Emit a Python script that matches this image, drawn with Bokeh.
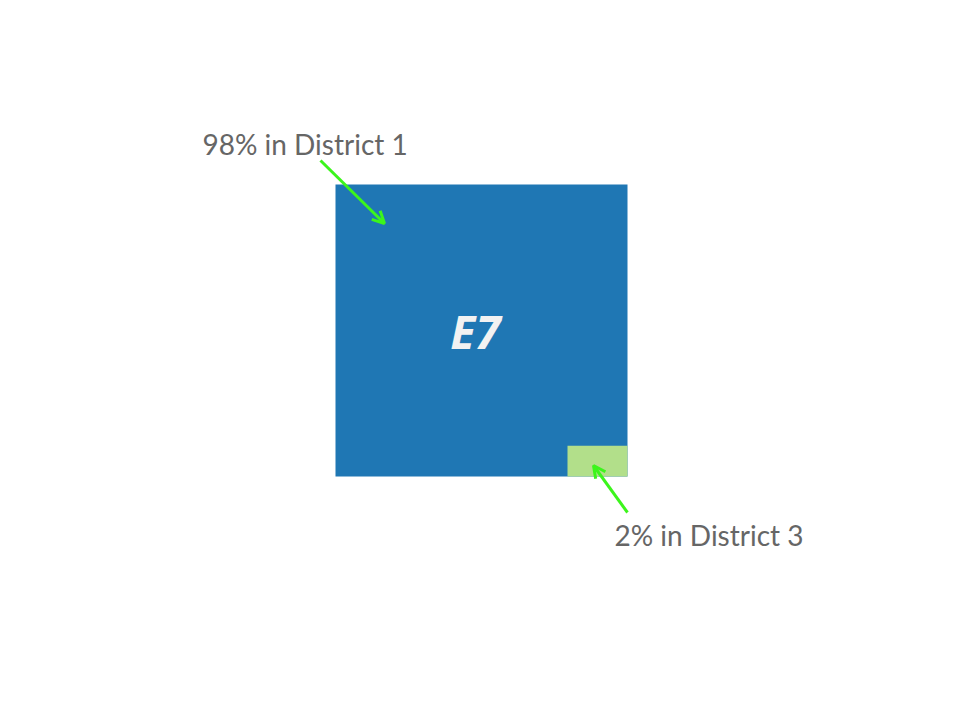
from bokeh.plotting import figure
from bokeh.models import Range1d, Arrow, OpenHead
from bokeh.core.properties import value
from bokeh.embed import file_html
from bokeh.resources import INLINE

# data
districts = ["District 1", "District 3"]
shares = [98, 2]
colors = ["#1f77b4", "#b2df8a"]
label = "E7"
annotations = [f"{s}% in {d}" for s, d in zip(shares, districts)]

W, H = 960, 720
p = figure(width=W, height=H, output_backend="svg", toolbar_location=None,
           x_range=Range1d(0, W), y_range=Range1d(H, 0), min_border=0)
p.axis.visible = False
p.grid.visible = False
p.outline_line_color = None
p.background_fill_color = "white"
p.border_fill_color = "white"

# square layout
x0, y0, side = 335, 184, 292
small_w = 60
small_h = side * side * shares[1] / 100 / small_w * 1.08

p.quad(left=[x0], right=[x0 + side], top=[y0], bottom=[y0 + side], color=colors[0], line_color=None)
p.quad(left=[x0 + side - small_w], right=[x0 + side], top=[y0 + side - small_h], bottom=[y0 + side],
       color=colors[1], line_color=None)

p.text(x=[x0 + side / 2 - 6], y=[y0 + side / 2], text=[label], text_align="center",
       text_baseline="middle", text_font=value("Open Sans"), text_font_style="bold italic",
       text_font_size="46px", text_color="#f2f2f2")

p.text(x=[202], y=[143], text=[annotations[0]], text_align="left", text_baseline="middle",
       text_font=value("Lato"), text_font_size="28px", text_color="#666666")
p.text(x=[614], y=[534], text=[annotations[1]], text_align="left", text_baseline="middle",
       text_font=value("Lato"), text_font_size="28px", text_color="#666666")

ac = "#3cf51c"
p.add_layout(Arrow(x_start=320, y_start=160, x_end=384, y_end=223, line_color=ac, line_width=3,
                   end=OpenHead(size=12, line_color=ac, line_width=3)))
p.add_layout(Arrow(x_start=627, y_start=512, x_end=593, y_end=465, line_color=ac, line_width=3,
                   end=OpenHead(size=12, line_color=ac, line_width=3)))

open("out.html", "w").write(file_html(p, INLINE))
